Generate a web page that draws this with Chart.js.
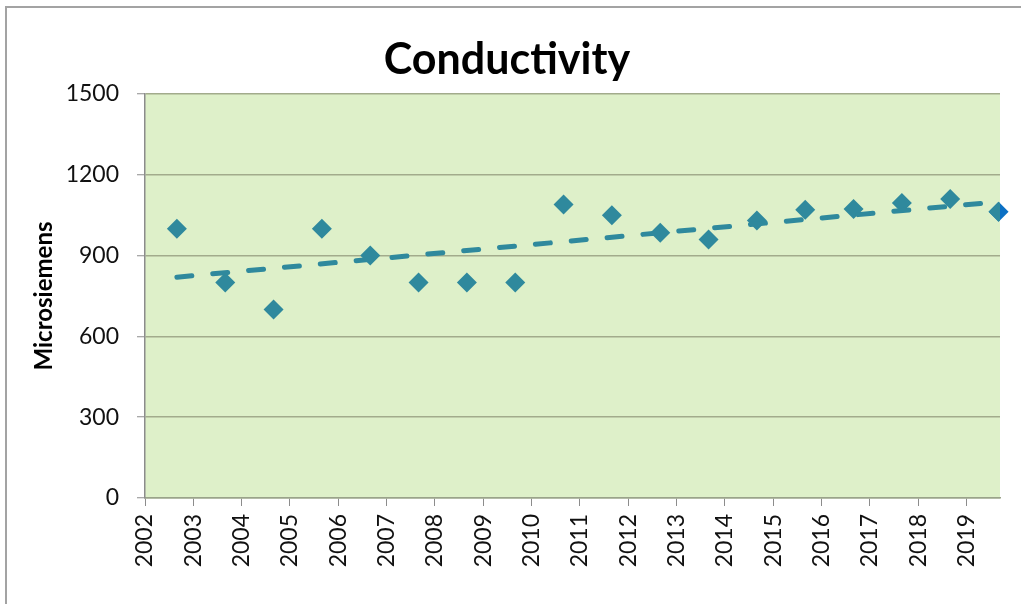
<!DOCTYPE html>
<html>
<head>
<meta charset="utf-8">
<script src="https://cdn.jsdelivr.net/npm/chart.js@4.4.1/dist/chart.umd.min.js"></script>
<style>
  html, body { margin: 0; padding: 0; background: #ffffff; overflow: hidden; }
  #wrap { position: relative; width: 1021px; height: 604px; }
  #frame { position: absolute; left: 5px; top: 6px; width: 1100px; height: 700px;
           border-top: 2px solid #a3a3a3; border-left: 2px solid #a3a3a3; pointer-events: none; }
  canvas { position: absolute; left: 0; top: 0; }
</style>
</head>
<body>
<div id="wrap">
  <canvas id="c" width="1021" height="604"></canvas>
  <div id="frame"></div>
</div>
<script>
// ---- data ----
const chartTitle = "Conductivity";
const yAxisTitle = "Microsiemens";
const sampleYears = [2002.66, 2003.66, 2004.66, 2005.66, 2006.66, 2007.66, 2008.66, 2009.66, 2010.66,
                     2011.66, 2012.66, 2013.66, 2014.66, 2015.66, 2016.66, 2017.66, 2018.66, 2019.66];
const conductivity = [1000, 800, 700, 1000, 900, 800, 800, 800, 1090,
                      1050, 985, 960, 1030, 1070, 1073, 1095, 1110, 1063];
const trendYears = [2002.66, 2019.66];
const trendValues = [820, 1100];
const xTickLabels = ["2002","2003","2004","2005","2006","2007","2008","2009","2010",
                     "2011","2012","2013","2014","2015","2016","2017","2018","2019"];
const yTickLabels = ["0","300","600","900","1200","1500"];

const teal = "#2f899d";
const lastIdx = sampleYears.length - 1;

const bgPlugin = {
  id: "plotBg",
  beforeDraw(chart) {
    const { ctx, chartArea: a } = chart;
    ctx.save();
    ctx.fillStyle = "#def0c9";
    ctx.fillRect(a.left, a.top, a.right - a.left, a.bottom - a.top);
    ctx.restore();
  },
  afterDraw(chart) {
    const { ctx } = chart;
    ctx.save();
    ctx.font = "bold 43px Lato, 'Open Sans', sans-serif";
    ctx.fillStyle = "#000";
    ctx.textAlign = "center";
    ctx.textBaseline = "alphabetic";
    ctx.fillText(chartTitle, 507, 74);
    ctx.restore();
  }
};

const tickFont = { family: "Lato, 'Open Sans', sans-serif", size: 23 };

new Chart(document.getElementById("c"), {
  type: "scatter",
  data: {
    datasets: [
      {
        label: "Trend",
        type: "line",
        data: trendYears.map((x, i) => ({ x, y: trendValues[i] })),
        borderColor: teal,
        borderWidth: 5,
        borderDash: [15, 21],
        borderCapStyle: "round",
        pointRadius: 0,
        fill: false,
        order: -1
      },
      {
        label: "Conductivity",
        data: sampleYears.map((x, i) => ({ x, y: conductivity[i] })),
        pointStyle: "rectRot",
        pointRadius: 10,
        pointBackgroundColor: teal,
        pointBorderColor: teal,
        pointBorderWidth: 0,
        clip: 0,
        order: 0
      },
      {
        label: "Last",
        data: [{ x: sampleYears[lastIdx], y: conductivity[lastIdx] }],
        pointStyle: "rectRot",
        pointRadius: 10,
        pointBackgroundColor: "#0b70c4",
        pointBorderWidth: 0,
        clip: false,
        order: 1
      }
    ]
  },
  options: {
    responsive: false,
    animation: false,
    devicePixelRatio: 1,
    layout: { padding: { top: 94, right: 21, bottom: 0, left: 0 } },
    plugins: { legend: { display: false }, tooltip: { enabled: false }, title: { display: false } },
    scales: {
      x: {
        type: "linear",
        min: 2002,
        max: 2019.69,
        afterBuildTicks(scale) {
          scale.ticks = xTickLabels.map(l => ({ value: Number(l) }));
        },
        afterFit(scale) { scale.height = 106; },
        ticks: {
          autoSkip: false,
          minRotation: 90,
          maxRotation: 90,
          padding: 8,
          color: "#111",
          font: tickFont,
          callback(v) {
            const s = xTickLabels.find(l => Number(l) === v);
            return s === undefined ? null : s;
          }
        },
        grid: { drawOnChartArea: false, drawTicks: true, tickLength: 8, tickColor: "#8c8c8c", tickWidth: 1 },
        border: { color: "#9aa38a", width: 1.5 }
      },
      y: {
        min: 0,
        max: 1500,
        afterBuildTicks(scale) {
          const t = [];
          for (let v = 0; v <= 1500; v += 100) t.push({ value: v });
          scale.ticks = t;
        },
        afterFit(scale) { scale.width = 145; },
        ticks: {
          padding: 18,
          color: "#111",
          font: tickFont,
          callback(v) {
            const s = yTickLabels.find(l => Number(l) === v);
            return s === undefined ? null : s;
          }
        },
        grid: {
          color(ctx) { return ctx.tick && ctx.tick.value % 300 === 0 ? "#a2ab8c" : "rgba(0,0,0,0)"; },
          lineWidth: 1.5,
          tickColor: "#8c8c8c",
          tickLength: 8,
          tickWidth: 1
        },
        border: { color: "#8c8c8c", width: 1.5 },
        title: {
          display: true,
          text: yAxisTitle,
          color: "#000",
          font: { family: "Lato, 'Open Sans', sans-serif", size: 24, weight: "bold" },
          padding: { top: 30, bottom: 0 }
        }
      }
    }
  },
  plugins: [bgPlugin]
});
</script>
</body>
</html>
